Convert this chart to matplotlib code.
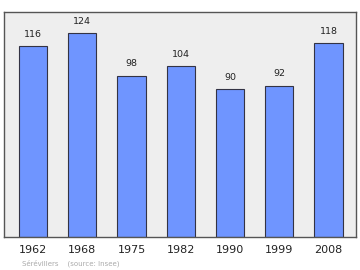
import matplotlib
matplotlib.use("Agg")
import matplotlib.pyplot as plt

years = ["1962", "1968", "1975", "1982", "1990", "1999", "2008"]
population = [116, 124, 98, 104, 90, 92, 118]

fig = plt.figure(figsize=(3.6, 2.7), dpi=100)
ax = fig.add_axes([4/360, 1 - 237/270, 352/360, 225/270])
ax.set_facecolor("#eeeeee")
x = list(range(len(years)))
ax.bar(x, population, width=0.57, color="#6f95ff", edgecolor="#333344", linewidth=0.8, zorder=2)
for xi, v in zip(x, population):
    ax.text(xi, v + 4.5, str(v), ha="center", va="bottom", fontsize=6.8, color="#222222")
ax.set_xlim(-0.589, 6.558)
ax.set_ylim(0, 136.8)
ax.set_yticks([])
ax.set_xticks(x)
ax.set_xticklabels(years, fontsize=8, color="#222222")
ax.tick_params(axis="x", length=0, pad=6)
for s in ax.spines.values():
    s.set_color("#555555")
    s.set_linewidth(1.0)
fig.text(22/360, 1 - 263/270, "Sérévillers    (source: Insee)", fontsize=5, color="#aaaaaa", va="center", ha="left")
fig.savefig("out.png", dpi=100)
